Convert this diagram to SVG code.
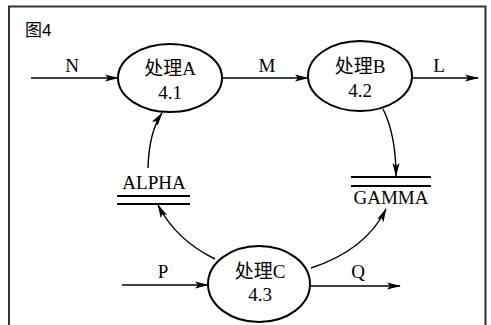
<svg xmlns="http://www.w3.org/2000/svg" width="491" height="325" viewBox="0 0 491 325">
  <defs>
    <marker id="arr" viewBox="0 0 14 8" refX="13" refY="4" markerWidth="14" markerHeight="8" markerUnits="userSpaceOnUse" orient="auto">
      <path d="M0,0.5 L14,4 L0,7.5 L3,4 Z" fill="#000"/>
    </marker>
    <style>
      .proc { fill: #fff; stroke: #000; stroke-width: 2; }
      .flow { fill: none; stroke: #000; stroke-width: 1.4; marker-end: url(#arr); }
      .store { stroke: #000; stroke-width: 2; }
      .t { font-family: "Liberation Serif", "Noto Sans CJK SC", serif; font-size: 19px; fill: #000; text-anchor: middle; }
      .cap { font-family: "Liberation Sans", "Noto Sans CJK SC", sans-serif; font-size: 17px; fill: #000; }
    </style>
  </defs>

  <rect width="491" height="325" fill="#fff"/>
  <!-- open-bottomed frame -->
  <path d="M9,325 V6.5 H485.5 V325" fill="none" stroke="#333" stroke-width="2"/>
  <text class="cap" x="25" y="36">图4</text>

  <g id="connectors">
    <path class="flow" d="M31,78 H118"/>
    <path class="flow" d="M222,78 H308"/>
    <path class="flow" d="M412,78 H478"/>
    <path class="flow" d="M148,168 Q149,132 162,113"/>
    <path class="flow" d="M383,109 Q396,135 396,176"/>
    <path class="flow" d="M215,259 Q176,240 158,205"/>
    <path class="flow" d="M311,268 Q366,250 386,209"/>
    <path class="flow" d="M122,285 H208"/>
    <path class="flow" d="M311,286 H400"/>
    <text class="t" x="72" y="72">N</text>
    <text class="t" x="267" y="72">M</text>
    <text class="t" x="439" y="72">L</text>
    <text class="t" x="163" y="278">P</text>
    <text class="t" x="358" y="278">Q</text>
  </g>

  <g id="procA">
    <ellipse class="proc" cx="170" cy="78" rx="52" ry="34"/>
    <text class="t" x="170" y="75">处理A</text>
    <text class="t" x="170" y="99">4.1</text>
  </g>
  <g id="procB">
    <ellipse class="proc" cx="360" cy="76" rx="52" ry="35"/>
    <text class="t" x="360" y="73">处理B</text>
    <text class="t" x="360" y="97">4.2</text>
  </g>
  <g id="procC">
    <ellipse class="proc" cx="259" cy="284" rx="51" ry="38"/>
    <text class="t" x="260" y="278">处理C</text>
    <text class="t" x="260" y="301">4.3</text>
  </g>

  <g id="storeAlpha">
    <text class="t" x="154" y="189">ALPHA</text>
    <line class="store" x1="117" y1="196" x2="190" y2="196"/>
    <line class="store" x1="117" y1="204" x2="190" y2="204"/>
  </g>
  <g id="storeGamma">
    <line class="store" x1="351" y1="177" x2="431" y2="177"/>
    <line class="store" x1="351" y1="186" x2="431" y2="186"/>
    <text class="t" x="391" y="204">GAMMA</text>
  </g>
</svg>
